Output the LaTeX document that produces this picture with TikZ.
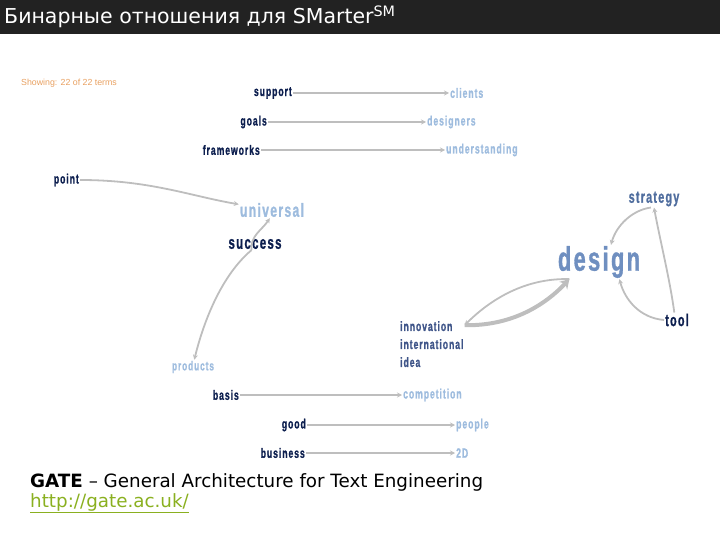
\documentclass[tikz,border=0pt]{standalone}
\usepackage{fontspec}
\setmainfont{DejaVu Sans}
\newfontfamily\termfont[FakeStretch=0.64,LetterSpace=7,FakeBold=1]{Liberation Sans}
\newfontfamily\notefont{Liberation Sans}
\usetikzlibrary{arrows.meta}
\definecolor{titlebar}{HTML}{222222}
\definecolor{termnavy}{HTML}{0C1E4E}
\definecolor{termlight}{HTML}{9EBCDE}
\definecolor{termmid}{HTML}{4F6D9E}
\definecolor{termdesign}{HTML}{6F8FC0}
\definecolor{termgroup}{HTML}{3E5488}
\definecolor{linkgray}{HTML}{BEBEBE}
\definecolor{noteorange}{HTML}{E8A060}
\definecolor{urlgreen}{HTML}{8AB020}

\begin{document}
\begin{tikzpicture}[
    x=1pt, y=-1pt,
    term/.style={font=\termfont\bfseries\fontsize{13.5}{13.5}\selectfont, inner sep=1pt},
    source/.style={term, text=termnavy, anchor=east},
    target/.style={term, text=termlight, anchor=west},
    link/.style={draw=linkgray, line width=1.8pt, -{Stealth[length=5pt,width=5pt]}},
    heavylink/.style={draw=linkgray, line width=4pt, -{Stealth[length=9pt,width=11pt]}}
  ]
    \useasboundingbox (0,0) rectangle (720,540);
    \fill[titlebar] (0,0) rectangle (720,34);
    \node[anchor=west, text=white, font=\fontsize{20.5}{20.5}\selectfont, inner sep=0pt] (title) at (4,17)
      {Бинарные отношения для SMarter\textsuperscript{SM}};

    \node[anchor=west, text=noteorange, font=\notefont\fontsize{8.8}{8.8}\selectfont, inner sep=0pt] (shown) at (21,83)
      {Showing: 22 of 22 terms};

    % pairs in rows
    \node[source] (support) at (293,93) {support};
    \node[target] (clients) at (449,93) {clients};
    \node[source] (goals) at (268,122) {goals};
    \node[target] (designers) at (426,122) {designers};
    \node[source] (frameworks) at (261,150) {frameworks};
    \node[target] (understanding) at (445,150) {understanding};
    \node[source] (basis) at (240,395) {basis};
    \node[target] (competition) at (402,395) {competition};
    \node[source] (good) at (307,425) {good};
    \node[target] (people) at (455,425) {people};
    \node[source] (business) at (306,453) {business};
    \node[target] (twod) at (455,453) {2D};

    % cluster terms
    \node[source] (point) at (80,180) {point};
    \node[term, text=termlight, font=\termfont\bfseries\fontsize{19}{19}\selectfont] (universal) at (272,210) {universal};
    \node[term, text=termnavy, font=\termfont\bfseries\fontsize{18}{18}\selectfont] (success) at (255,244) {success};
    \node[term, text=termlight, font=\termfont\bfseries\fontsize{13}{13}\selectfont] (products) at (193,367) {products};
    \node[term, text=termmid, font=\termfont\bfseries\fontsize{17}{17}\selectfont] (strategy) at (654,199) {strategy};
    \node[term, text=termdesign, font=\termfont\bfseries\fontsize{34}{34}\selectfont] (design) at (599,262) {design};
    \node[term, text=termnavy, font=\termfont\bfseries\fontsize{17}{17}\selectfont] (tool) at (677,320) {tool};
    \node[term, text=termgroup, font=\termfont\bfseries\fontsize{13.5}{18}\selectfont, align=left, anchor=north west] (innov) at (399,320)
      {innovation\\international\\idea};

    \node[anchor=west, font=\fontsize{18.3}{18.3}\selectfont, inner sep=0pt] (gate) at (30,482)
      {\textbf{GATE} -- General Architecture for Text Engineering};
    \node[anchor=west, text=urlgreen, font=\fontsize{18.3}{18.3}\selectfont, inner sep=0pt] (url) at (30,503)
      {\underline{http://gate.ac.uk/}};

    \draw[link] (support) -- (clients);
    \draw[link] (goals) -- (designers);
    \draw[link] (frameworks) -- (understanding);
    \draw[link] (basis) -- (competition);
    \draw[link] (good) -- (people);
    \draw[link] (business) -- (twod);

    \draw[link] (point) .. controls (150,180) and (190,196) .. (universal);
    \draw[link] (success.240) .. controls (250,236) and (262,230) .. (universal.255);
    \draw[link] (success.240) .. controls (222,275) and (204,320) .. (products.80);

    \draw[heavylink] (innov.30) .. controls (512,326) and (545,305) .. (design.210);
    \draw[link] (design.210) .. controls (530,278) and (495,295) .. (innov.30);
    \draw[link] (strategy.250) .. controls (632,210) and (616,226) .. (design.55);
    \draw[link] (tool.west) .. controls (640,318) and (625,300) .. (design.320);
    \draw[link] (tool.110) .. controls (670,280) and (660,240) .. (strategy.south);
  \end{tikzpicture}
\end{document}
